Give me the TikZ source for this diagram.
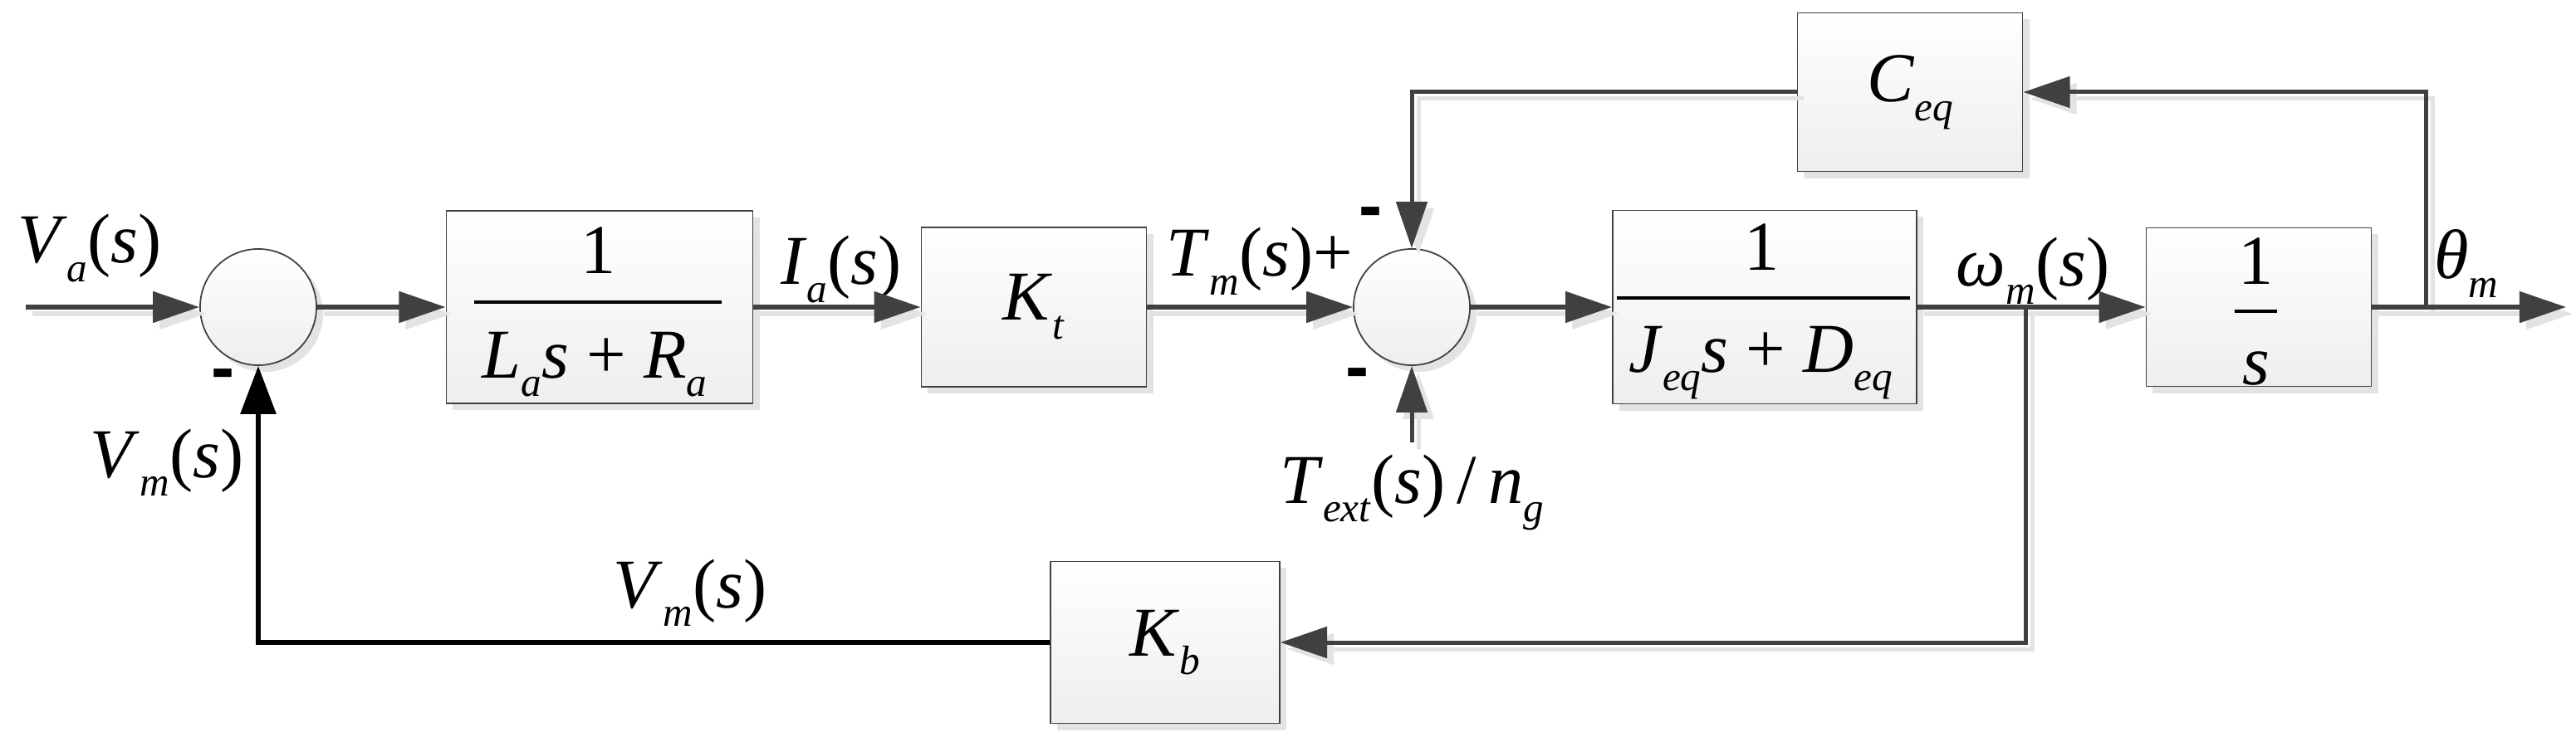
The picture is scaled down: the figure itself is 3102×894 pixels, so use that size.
\documentclass[tikz,border=0pt]{standalone}
\usepackage{fontspec}
\setmainfont{Liberation Serif}
\newfontfamily\dashfont{Liberation Sans}
\usetikzlibrary{arrows.meta,shadows}
\definecolor{lc}{HTML}{404040}
\definecolor{shc}{HTML}{E3E3E3}
\definecolor{bbc}{HTML}{EEEEEE}
\newcommand{\vs}[2]{\textit{#1}\raisebox{-0.27em}{\fontsize{14}{14}\selectfont\textit{#2}}}
\newcommand{\ps}{(\textit{s})}
\newcommand{\grayconn}{%
\draw[gl,tip] (vin) -- (s1.west);
\draw[gl,tip] (s1.east) -- (b1.west);
\draw[gl,tip] (b1.east) -- (kt.west);
\draw[gl,tip] (kt.east) -- (s2.west);
\draw[gl,tip] (s2.east) -- (b3.west);
\draw[gl,tip] (b3.east) -- (is.west);
\draw[gl,tip] (is.east) -- (out);
\draw[gl,tip] (jt) |- (ceq.east);
\draw[gl,tip] (ceq.west) -| (s2.north);
\draw[gl,tip] (jw) |- (kb.east);
\draw[gl,tip] (tin) -- (s2.south);
}
\begin{document}
\begin{tikzpicture}[x=0.01cm,y=-0.01cm,
 blk/.style={draw=lc, line width=0.5pt, top color=white, bottom color=bbc, inner sep=0pt,
   font=\fontsize{24}{28}\selectfont,
   drop shadow={shadow xshift=0.08cm, shadow yshift=-0.08cm, fill=shc, opacity=1}},
 sumc/.style={blk, circle, minimum size=1.4cm},
 lbl/.style={inner sep=0pt, anchor=base, font=\fontsize{24}{28}\selectfont},
 sgn/.style={inner sep=0pt, font=\dashfont\bfseries\fontsize{24}{28}\selectfont},
 gl/.style={draw=lc, line width=0.05cm},
 bl/.style={draw=black, line width=0.06cm},
 tip/.style={-{Triangle[length=0.56cm,width=0.37cm]}},
 btip/.style={-{Triangle[length=0.58cm,width=0.42cm]}},
 frl/.style={draw=black, line width=0.04cm}
]
\useasboundingbox (0,0) rectangle (3102,894);

% blocks and summing junctions
\node[sumc] (s1) at (311,370) {};
\node[blk, minimum width=3.69cm, minimum height=2.32cm] (b1) at (722,370) {};
\node[blk, minimum width=2.71cm, minimum height=1.92cm] (kt) at (1245,370) {\vs{K}{t}};
\node[sumc] (s2) at (1700,370) {};
\node[blk, minimum width=3.66cm, minimum height=2.33cm] (b3) at (2125,370) {};
\node[blk, minimum width=2.71cm, minimum height=1.91cm] (is) at (2720,370) {};
\node[blk, minimum width=2.71cm, minimum height=1.91cm] (ceq) at (2300,111) {\vs{C}{eq}};
\node[blk, minimum width=2.76cm, minimum height=1.95cm] (kb) at (1403,774) {\vs{K}{b}};

% fractions
\node[lbl] (b1n) at (721,330) {1};
\node[lbl] (b1d) at (716,455) {\vs{L}{a}\textit{s} + \vs{R}{a}};
\draw[frl] (571,364) -- (869,364);
\node[lbl] (b3n) at (2122,325) {1};
\node[lbl] (b3d) at (2120,448) {\vs{J}{eq}\textit{s} + \vs{D}{eq}};
\draw[frl] (1947,359) -- (2300,359);
\node[lbl] (isn) at (2717,342) {1};
\node[lbl] (isd) at (2717,463) {\textit{s}};
\draw[frl] (2691,375) -- (2742,375);

% signal labels
\node[lbl] (lva) at (108,317) {\vs{V}{a}\ps};
\node[lbl] (lia) at (1013,342) {\vs{I}{a}\ps};
\node[lbl] (ltm) at (1517,333) {\vs{T}{m}\ps+};
\node[lbl] (lwm) at (2448,344) {\vs{ω}{m}\ps};
\node[lbl] (lth) at (2970,336) {\vs{θ}{m}};
\node[lbl] (lvm1) at (201,575) {\vs{V}{m}\ps};
\node[lbl] (lvm2) at (831,732) {\vs{V}{m}\ps};
\node[lbl] (lte) at (1700,606) {\vs{T}{ext}\ps\,/\,\vs{n}{g}};

% signs
\node[sgn] (m1) at (269,458) {-};
\node[sgn] (m2) at (1651,263) {-};
\node[sgn] (m3) at (1635,457) {-};

% connector end points
\coordinate (vin) at (31,370);
\coordinate (jw) at (2439,370);
\coordinate (jt) at (2921,370);
\coordinate (out) at (3090,370);
\coordinate (tin) at (1700,533);

% connector shadows
\begin{scope}[transform canvas={shift={(8,8)}}, gl/.style={draw=shc, line width=0.05cm}]
\grayconn
\end{scope}
% connectors
\grayconn
\draw[bl,btip] (kb.west) -| (s1.south);
\end{tikzpicture}
\end{document}
